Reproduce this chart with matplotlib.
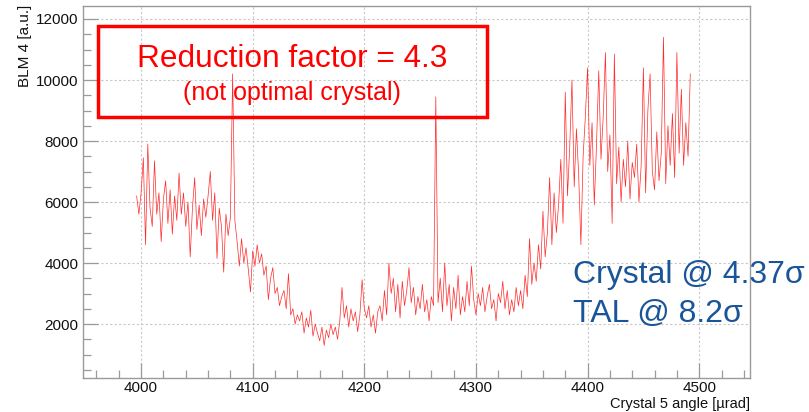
import numpy as np
import matplotlib
matplotlib.use("Agg")
import matplotlib.pyplot as plt
from matplotlib.patches import Rectangle
from matplotlib.ticker import MultipleLocator

plt.rcParams['font.family'] = ['Liberation Sans', 'DejaVu Sans']

# Crystal 5 angle scan (µrad), one reading every 2 µrad
angle_start = 3996
angle_step = 2
blm4 = [
    6200, 5600, 6300, 7450, 4600, 7900, 5800, 5200, 7350, 5600,   # 3996-4014
    6300, 4700, 6100, 6700, 5300, 6400, 4950, 6200, 5400, 6950,   # 4016-4034
    5600, 6300, 5200, 6000, 4200, 5800, 6800, 5100, 5900, 4900,   # 4036-4054
    6100, 5500, 6200, 7000, 5400, 6300, 4150, 5800, 5200, 3700,   # 4056-4074
    5600, 4900, 5500, 10200, 5400, 4700, 3900, 4800, 4000, 4500,  # 4076-4094
    3800, 3050, 4400, 3900, 4600, 4000, 4300, 3600, 3900, 2800,   # 4096-4114
    3500, 3850, 3000, 3200, 2600, 2900, 3100, 2500, 3650, 2300,   # 4116-4134
    2500, 2000, 2300, 2100, 2400, 1700, 2200, 1900, 2450, 1600,   # 4136-4154
    2000, 1700, 1450, 1900, 1300, 1800, 1550, 2000, 1650, 1900,   # 4156-4174
    1500, 2100, 3200, 2200, 2600, 1900, 2500, 2100, 2400, 1750,   # 4176-4194
    2300, 3450, 2500, 2200, 2600, 1900, 2300, 1700, 2400, 2600,   # 4196-4214
    2100, 3100, 2300, 4000, 3000, 3500, 2400, 3300, 2200, 3400,   # 4216-4234
    2600, 3100, 3850, 2700, 3200, 2300, 2900, 2500, 3300, 2400,   # 4236-4254
    2800, 2100, 2900, 2600, 9450, 2700, 3500, 2400, 4000, 2600,   # 4256-4274
    3300, 2100, 3200, 2500, 3600, 2300, 2900, 2400, 3400, 2600,   # 4276-4294
    3900, 2800, 2300, 3000, 2600, 3200, 2400, 2900, 3300, 2500,   # 4296-4314
    2800, 2100, 3000, 2700, 3400, 2500, 3100, 2300, 2800, 2400,   # 4316-4334
    3200, 2600, 3100, 2500, 3600, 2900, 4800, 3300, 4000, 3400,   # 4336-4354
    4600, 3800, 5700, 4200, 5000, 6800, 4600, 6300, 5000, 5900,   # 4356-4374
    7400, 5300, 9600, 6200, 7800, 10000, 6500, 8400, 6900, 4600,  # 4376-4394
    7500, 8800, 10400, 7200, 8600, 5900, 7900, 10300, 7400, 8800, # 4396-4414
    10900, 7000, 8200, 5300, 10850, 6600, 7800, 6000, 7400, 6500, # 4416-4434
    8000, 6100, 7300, 6800, 7900, 6000, 7200, 10400, 6300, 9000,  # 4436-4454
    10200, 7000, 6400, 8300, 6700, 7600, 11400, 6600, 8500, 7200, # 4456-4474
    8900, 6800, 10900, 7600, 9700, 7200, 8600, 7500, 10200,       # 4476-4492
]
angles = angle_start + angle_step * np.arange(len(blm4))

W, H = 809, 412
fig = plt.figure(figsize=(W / 100, H / 100), dpi=100)
ax = fig.add_axes([82.5 / W, 1 - 378 / H, (750 - 82.5) / W, (378 - 5.7) / H])

ax.plot(angles, blm4, color='#ff2a2a', lw=0.5)

ax.set_xlim(3947.5, 4545.5)
ax.set_ylim(230, 12436)

ax.xaxis.set_major_locator(MultipleLocator(100))
ax.xaxis.set_minor_locator(MultipleLocator(20))
ax.yaxis.set_major_locator(MultipleLocator(2000))
ax.yaxis.set_minor_locator(MultipleLocator(500))

frame_col = '#9a9a9a'
for s in ax.spines.values():
    s.set_color(frame_col)
    s.set_linewidth(1.0)
ax.tick_params(which='both', direction='in', color=frame_col, width=0.9,
               labelsize=11, labelcolor='#111111')
ax.tick_params(which='major', length=11)
ax.tick_params(which='minor', length=6)
ax.tick_params(axis='x', pad=2.5)
ax.tick_params(axis='y', pad=3)
ax.grid(True, which='major', color='#c8c8c8', lw=0.8, linestyle=(0, (2, 2)))
ax.set_axisbelow(True)

fig.text(25 / W, 1 - 5 / H, 'BLM 4 [a.u.]', rotation=90, ha='center', va='top',
         fontsize=11, color='#111111')
fig.text(750 / W, 1 - 404 / H, 'Crystal 5 angle [µrad]', ha='right', va='center',
         fontsize=10.5, color='#111111')

# Reduction factor annotation box
fig.patches.append(Rectangle((98 / W, 1 - 117 / H), (487 - 98) / W, (117 - 26) / H,
                             transform=fig.transFigure, fill=False, ec='#ff0000',
                             lw=2.5))
fig.text(292 / W, 1 - 67 / H, 'Reduction factor = 4.3', ha='center', va='baseline',
         fontsize=22.8, color='#ff0000')
fig.text(292 / W, 1 - 100 / H, '(not optimal crystal)', ha='center', va='baseline',
         fontsize=18, color='#ff0000')

# Collimator settings
blue = '#1a5599'
fig.text(573 / W, 1 - 283 / H, 'Crystal @ 4.37σ', ha='left', va='baseline',
         fontsize=23, color=blue)
fig.text(573 / W, 1 - 321.7 / H, 'TAL @ 8.2σ', ha='left', va='baseline',
         fontsize=23, color=blue)

fig.savefig('out.png', dpi=100)
